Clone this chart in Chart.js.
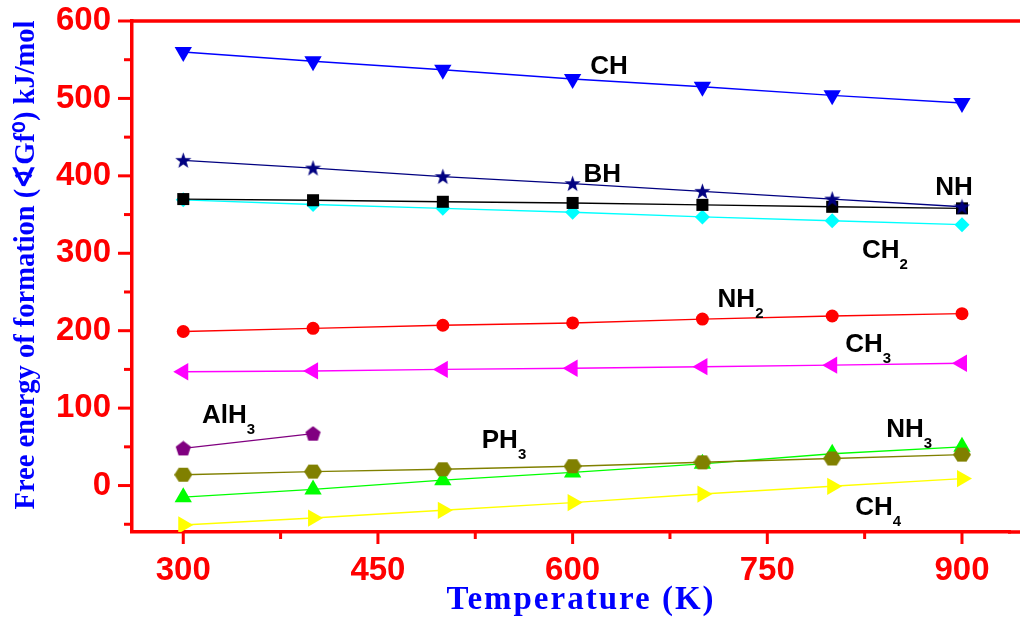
<!DOCTYPE html>
<html>
<head>
<meta charset="utf-8">
<script src="https://cdn.jsdelivr.net/npm/chart.js@4.4.1/dist/chart.umd.min.js"></script>
<style>
  html, body { margin: 0; padding: 0; background: #fff; }
</style>
</head>
<body>
<canvas id="chart" width="1020" height="618"></canvas>
<script>
// temperatures (K)
const temps = [300, 400, 500, 600, 700, 800, 900];
const tempsAlH3 = [300, 400];

// free energy of formation, kJ/mol
const valCH   = [560, 548, 537, 525, 515, 504, 494];
const valBH   = [420, 410, 399, 390, 380, 370, 360];
const valNH   = [370, 368.5, 366.5, 365, 362.5, 360, 358];
const valCH2  = [369, 363, 358, 353, 347, 342, 337];
const valNH2  = [199, 203, 207, 210, 215, 219, 222];
const valCH3  = [147, 148, 150, 151.5, 153.5, 155.5, 158];
const valAlH3 = [48, 67];
const valPH3  = [14, 18, 21, 25, 30, 35, 40];
const valNH3  = [-15, -5, 7, 17, 28, 41, 50];
const valCH4  = [-51, -42, -32, -22, -11, -1, 9];

const xTicks = [300, 375, 450, 525, 600, 675, 750, 825, 900];
const yTicks = [-50, 0, 50, 100, 150, 200, 250, 300, 350, 400, 450, 500, 550, 600];

const RED = "#ff0000";
const BLUE = "#0000ff";

// custom marker shapes
function polyCanvas(w, h, color, pts) {
  const c = document.createElement("canvas");
  c.width = w; c.height = h;
  const g = c.getContext("2d");
  g.fillStyle = color;
  g.beginPath();
  pts.forEach((p, i) => (i ? g.lineTo(p[0], p[1]) : g.moveTo(p[0], p[1])));
  g.closePath();
  g.fill();
  return c;
}

function starPts(cx, cy, ro, ri) {
  const p = [];
  for (let i = 0; i < 10; i++) {
    const r = i % 2 ? ri : ro;
    const a = -Math.PI / 2 + i * Math.PI / 5;
    p.push([cx + r * Math.cos(a), cy + r * Math.sin(a)]);
  }
  return p;
}

function ngonPts(cx, cy, rx, ry, n, start) {
  const p = [];
  for (let i = 0; i < n; i++) {
    const a = start + i * 2 * Math.PI / n;
    p.push([cx + rx * Math.cos(a), cy + ry * Math.sin(a)]);
  }
  return p;
}

const starImg = polyCanvas(17, 17, "#000080", starPts(8.5, 9, 8.5, 3.4));
const pentImg = polyCanvas(17, 16, "#800080", ngonPts(8.5, 8.6, 8, 8, 5, -Math.PI / 2));
const hexImg  = polyCanvas(18, 16, "#808000", ngonPts(9, 8, 9, 8, 6, 0));

function series(label, xs, ys, color, style, radius, rotation) {
  return {
    label,
    data: xs.map((x, i) => ({ x, y: ys[i] })),
    showLine: true,
    borderColor: color,
    backgroundColor: color,
    pointBackgroundColor: color,
    pointBorderColor: color,
    pointBorderWidth: 0,
    borderWidth: 1.4,
    pointStyle: style,
    pointRadius: radius,
    pointRotation: rotation || 0,
    tension: 0,
  };
}

// molecule labels placed in data units
const molLabels = [
  { t: "CH", s: "", x: 613.6, y: 531 },
  { t: "BH", s: "", x: 608.4, y: 392.5 },
  { t: "NH", s: "", x: 879.4, y: 375.3 },
  { t: "CH", s: "2", x: 823, y: 293.6 },
  { t: "NH", s: "2", x: 711.7, y: 230.3 },
  { t: "CH", s: "3", x: 810, y: 172 },
  { t: "AlH", s: "3", x: 314.4, y: 80.5 },
  { t: "PH", s: "3", x: 530, y: 48.3 },
  { t: "NH", s: "3", x: 841.7, y: 62.5 },
  { t: "CH", s: "4", x: 817.8, y: -38.2 },
];

const decorPlugin = {
  id: "decor",
  afterDraw(chart) {
    const ctx = chart.ctx;
    const xs = chart.scales.x, ys = chart.scales.y;
    const a = chart.chartArea;
    ctx.save();
    // top frame line, and bottom axis carried to the edge
    ctx.strokeStyle = RED;
    ctx.lineWidth = 3.5;
    ctx.beginPath();
    ctx.moveTo(a.left, a.top);
    ctx.lineTo(chart.width, a.top);
    ctx.moveTo(a.right - 2, a.bottom);
    ctx.lineTo(chart.width, a.bottom);
    ctx.stroke();
    // tick marks
    ctx.lineWidth = 3;
    xs.ticks.forEach((t) => {
      const px = xs.getPixelForValue(t.value);
      const len = t.value % 150 === 0 ? 12 : 7;
      ctx.beginPath();
      ctx.moveTo(px, a.bottom);
      ctx.lineTo(px, a.bottom + len);
      ctx.stroke();
    });
    ys.ticks.forEach((t) => {
      const py = ys.getPixelForValue(t.value);
      const len = t.value % 100 === 0 ? 14 : 8;
      ctx.beginPath();
      ctx.moveTo(a.left, py);
      ctx.lineTo(a.left - len, py);
      ctx.stroke();
    });
    // molecule labels
    ctx.fillStyle = "#000";
    ctx.textBaseline = "alphabetic";
    ctx.textAlign = "left";
    molLabels.forEach((l) => {
      const px = xs.getPixelForValue(l.x);
      const py = ys.getPixelForValue(l.y);
      ctx.font = "bold 26px 'Liberation Sans', Arial, sans-serif";
      ctx.fillText(l.t, px, py);
      if (l.s) {
        const w = ctx.measureText(l.t).width;
        ctx.font = "bold 15px 'Liberation Sans', Arial, sans-serif";
        ctx.fillText(l.s, px + w, py + 10.5);
      }
    });
    // axis titles
    ctx.fillStyle = BLUE;
    ctx.textAlign = "center";
    ctx.textBaseline = "middle";
    ctx.font = "bold 33px 'Liberation Serif', 'Times New Roman', serif";
    ctx.letterSpacing = "2px";
    ctx.fillText("Temperature (K)", 581, 600);
    ctx.letterSpacing = "0px";
    ctx.translate(27, 265);
    ctx.rotate(-Math.PI / 2);
    ctx.font = "bold 28.5px 'Liberation Serif', 'Times New Roman', serif";
    ctx.fillText("Free energy of formation (\u2222Gf\u2070) kJ/mol", 0, 0);
    ctx.restore();
  },
};

const tickFont = { family: "'Liberation Sans', Arial, sans-serif", size: 33, weight: "bold" };

new Chart(document.getElementById("chart").getContext("2d"), {
  type: "scatter",
  data: {
    datasets: [
      series("CH", temps, valCH, "#0000ff", "triangle", 10, 180),
      series("BH", temps, valBH, "#000080", starImg, 8),
      series("NH", temps, valNH, "#000000", "rect", 8.5),
      series("CH2", temps, valCH2, "#00ffff", "rectRot", 7.5),
      series("NH2", temps, valNH2, "#ff0000", "circle", 6.5),
      series("CH3", temps, valCH3, "#ff00ff", "triangle", 10, -90),
      series("AlH3", tempsAlH3, valAlH3, "#800080", pentImg, 8),
      series("PH3", temps, valPH3, "#808000", hexImg, 8),
      series("NH3", temps, valNH3, "#00ff00", "triangle", 10, 0),
      series("CH4", temps, valCH4, "#ffff00", "triangle", 10, 90),
    ],
  },
  options: {
    responsive: false,
    animation: false,
    layout: { padding: { top: 21, right: 0, left: 0, bottom: 0 } },
    plugins: { legend: { display: false }, tooltip: { enabled: false } },
    scales: {
      x: {
        type: "linear",
        min: 260.5,
        max: 937,
        afterBuildTicks: (s) => { s.ticks = xTicks.map((v) => ({ value: v })); },
        afterFit: (s) => { s.height = 86; },
        grid: { display: false, drawTicks: false },
        border: { display: true, color: RED, width: 3.5 },
        ticks: {
          autoSkip: false,
          maxRotation: 0,
          color: RED,
          font: tickFont,
          padding: 19,
          callback: (v) => (v % 150 === 0 ? String(v) : ""),
        },
      },
      y: {
        type: "linear",
        min: -60,
        max: 600,
        afterBuildTicks: (s) => { s.ticks = yTicks.map((v) => ({ value: v })); },
        afterFit: (s) => { s.width = 132; s.paddingTop = 0; s.paddingBottom = 0; },
        grid: { display: false, drawTicks: false },
        border: { display: true, color: RED, width: 3.5 },
        ticks: {
          autoSkip: false,
          color: RED,
          font: tickFont,
          padding: 21,
          callback: (v) => (v % 100 === 0 ? String(v) : ""),
        },
      },
    },
  },
  plugins: [decorPlugin],
});
</script>
</body>
</html>
